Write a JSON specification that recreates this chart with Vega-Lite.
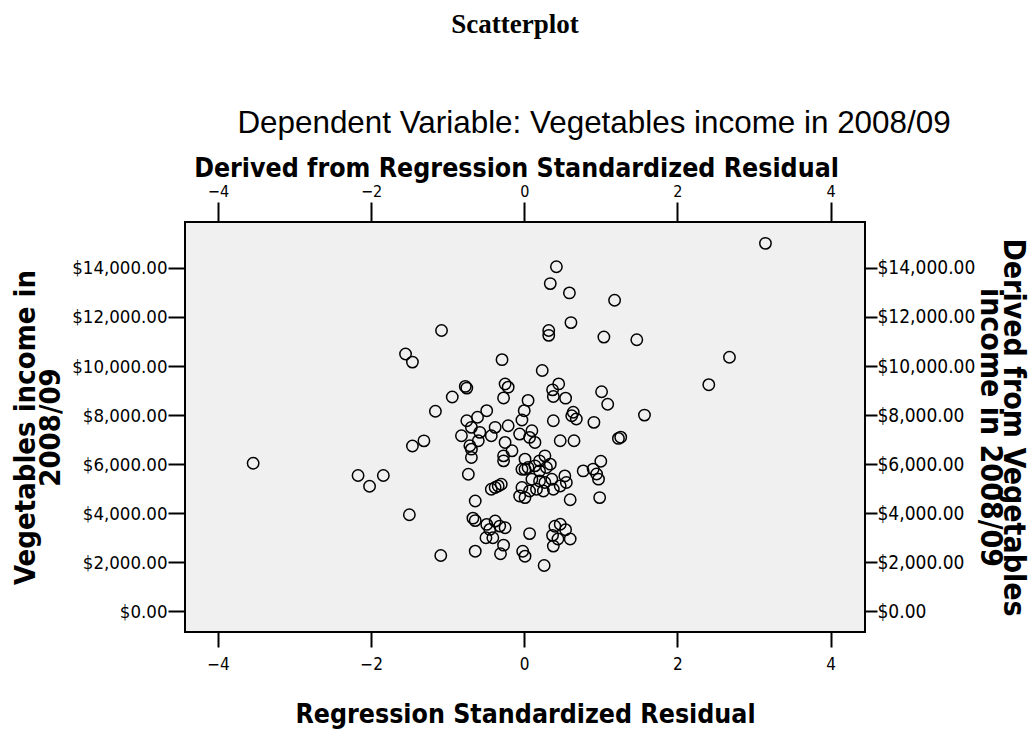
{
  "$schema": "https://vega.github.io/schema/vega-lite/v6.json",
  "autosize": {"type": "pad"},
  "padding": {"left": 10, "top": 10, "right": 8, "bottom": 0},
  "background": "white",
  "title": {
    "text": "Scatterplot",
    "anchor": "middle",
    "frame": "group",
    "font": "Liberation Serif",
    "fontSize": 27,
    "fontWeight": "bold",
    "color": "black",
    "dx": -10,
    "offset": 68
  },
  "config": {
    "view": {"fill": "#f0f0f0", "stroke": "black", "strokeWidth": 2},
    "axis": {
      "domain": false,
      "grid": false,
      "tickColor": "black",
      "tickWidth": 2,
      "labelColor": "black",
      "titleColor": "black",
      "labelFont": "DejaVu Sans Condensed",
      "titleFont": "DejaVu Sans Condensed",
      "titleFontWeight": "bold"
    }
  },
  "data": {
    "values": [
      {"residual": -3.54, "income": 6040}, {"residual": -2.17, "income": 5540}, {"residual": -2.02, "income": 5100},
      {"residual": -1.84, "income": 5540}, {"residual": -1.55, "income": 10490}, {"residual": -1.46, "income": 10160},
      {"residual": -1.08, "income": 11450}, {"residual": -1.5, "income": 3940}, {"residual": -1.09, "income": 2280},
      {"residual": -1.46, "income": 6740}, {"residual": -1.31, "income": 6950}, {"residual": -1.16, "income": 8155},
      {"residual": -0.94, "income": 8740}, {"residual": -0.77, "income": 9170}, {"residual": -0.75, "income": 9100},
      {"residual": -0.29, "income": 10260}, {"residual": 3.15, "income": 15000}, {"residual": 0.42, "income": 14045},
      {"residual": 0.34, "income": 13360}, {"residual": 0.59, "income": 12980}, {"residual": 1.18, "income": 12680},
      {"residual": 0.61, "income": 11770}, {"residual": 0.32, "income": 11450}, {"residual": 0.32, "income": 11250},
      {"residual": 1.04, "income": 11180}, {"residual": 1.47, "income": 11070}, {"residual": 2.68, "income": 10360},
      {"residual": 2.41, "income": 9240}, {"residual": 0.235, "income": 9816}, {"residual": 1.57, "income": 8000},
      {"residual": 1.01, "income": 8950}, {"residual": 1.09, "income": 8440}, {"residual": 1.23, "income": 7050},
      {"residual": 1.26, "income": 7100}, {"residual": 0.91, "income": 7705}, {"residual": 1.0, "income": 6120},
      {"residual": 0.77, "income": 5726}, {"residual": 0.9, "income": 5800}, {"residual": 0.945, "income": 5600},
      {"residual": 0.97, "income": 5390}, {"residual": 0.985, "income": 4638}, {"residual": 0.6, "income": 4550},
      {"residual": 0.47, "income": 6953}, {"residual": 0.65, "income": 6953}, {"residual": 0.38, "income": 7771},
      {"residual": 0.64, "income": 8115}, {"residual": 0.68, "income": 7840}, {"residual": 0.62, "income": 7975},
      {"residual": 0.54, "income": 8690}, {"residual": 0.45, "income": 9272}, {"residual": 0.37, "income": 9030},
      {"residual": 0.38, "income": 8760}, {"residual": 0.05, "income": 8600}, {"residual": 0.0, "income": 8180},
      {"residual": -0.03, "income": 7800}, {"residual": 0.07, "income": 3170}, {"residual": 0.26, "income": 1869},
      {"residual": 0.4, "income": 3470}, {"residual": 0.47, "income": 3550}, {"residual": 0.54, "income": 3330},
      {"residual": 0.37, "income": 3100}, {"residual": 0.44, "income": 2950}, {"residual": 0.6, "income": 2950},
      {"residual": 0.38, "income": 2660}, {"residual": -0.02, "income": 2450}, {"residual": 0.01, "income": 2250},
      {"residual": -0.27, "income": 2700}, {"residual": -0.31, "income": 2350}, {"residual": -0.64, "income": 2454},
      {"residual": -0.49, "income": 3546}, {"residual": -0.45, "income": 3342}, {"residual": -0.38, "income": 3681},
      {"residual": -0.32, "income": 3476}, {"residual": -0.25, "income": 3411}, {"residual": -0.5, "income": 3000},
      {"residual": -0.41, "income": 3000}, {"residual": -0.73, "income": 5590}, {"residual": -0.43, "income": 4977},
      {"residual": -0.38, "income": 5047}, {"residual": -0.34, "income": 5113}, {"residual": -0.3, "income": 5182},
      {"residual": -0.27, "income": 6136}, {"residual": -0.03, "income": 5795}, {"residual": 0.01, "income": 5795},
      {"residual": -0.06, "income": 4703}, {"residual": -0.03, "income": 5047}, {"residual": -0.64, "income": 4499},
      {"residual": -0.67, "income": 3800}, {"residual": -0.64, "income": 3700}, {"residual": -0.25, "income": 9270},
      {"residual": -0.21, "income": 9140}, {"residual": -0.27, "income": 8700}, {"residual": -0.49, "income": 8180},
      {"residual": -0.61, "income": 7910}, {"residual": -0.75, "income": 7771}, {"residual": -0.69, "income": 7500},
      {"residual": -0.58, "income": 7296}, {"residual": -0.38, "income": 7500}, {"residual": -0.43, "income": 7158},
      {"residual": -0.21, "income": 7566}, {"residual": -0.06, "income": 7227}, {"residual": -0.82, "income": 7158},
      {"residual": -0.71, "income": 6749}, {"residual": -0.69, "income": 6613}, {"residual": -0.6, "income": 6953},
      {"residual": -0.25, "income": 6886}, {"residual": -0.16, "income": 6544}, {"residual": -0.27, "income": 6340},
      {"residual": -0.69, "income": 6274}, {"residual": 0.01, "income": 6204}, {"residual": 0.1, "income": 7362},
      {"residual": 0.07, "income": 7091}, {"residual": 0.14, "income": 6886}, {"residual": 0.27, "income": 6340},
      {"residual": 0.2, "income": 6136}, {"residual": 0.05, "income": 5865}, {"residual": 0.14, "income": 5931},
      {"residual": 0.2, "income": 5726}, {"residual": 0.29, "income": 5865}, {"residual": 0.34, "income": 6000},
      {"residual": 0.1, "income": 5387}, {"residual": 0.2, "income": 5317}, {"residual": 0.27, "income": 5252},
      {"residual": 0.36, "income": 5387}, {"residual": 0.38, "income": 4977}, {"residual": 0.47, "income": 5113},
      {"residual": 0.53, "income": 5522}, {"residual": 0.55, "income": 5252}, {"residual": 0.07, "income": 4908},
      {"residual": 0.16, "income": 4977}, {"residual": 0.25, "income": 4908}, {"residual": 0.01, "income": 4638}
    ]
  },
  "vconcat": [
    {
      "width": 680,
      "height": 410,
      "title": {
        "text": "Dependent Variable: Vegetables income in 2008/09",
        "anchor": "middle",
        "frame": "group",
        "font": "Liberation Sans",
        "fontSize": 31.4,
        "fontWeight": "normal",
        "color": "black",
        "dx": 69,
        "offset": 16
      },
      "layer": [
        {
          "mark": {"type": "point", "shape": "circle", "filled": false, "stroke": "black", "strokeWidth": 1.5, "size": 130, "opacity": 1},
          "encoding": {
            "x": {
              "field": "residual", "type": "quantitative",
              "scale": {"domain": [-4.43, 4.45], "nice": false, "zero": false},
              "axis": {
                "orient": "bottom", "values": [-4, -2, 0, 2, 4], "format": "d",
                "tickSize": 15, "labelPadding": 9, "labelFontSize": 17,
                "title": "Regression Standardized Residual", "titleFontSize": 26.5, "titlePadding": 29
              }
            },
            "y": {
              "field": "income", "type": "quantitative",
              "scale": {"domain": [-840, 15870], "nice": false, "zero": false},
              "axis": {
                "orient": "left", "values": [0, 2000, 4000, 6000, 8000, 10000, 12000, 14000], "format": "$,.2f",
                "tickSize": 17, "labelPadding": 1, "labelFontSize": 18.5,
                "title": ["Vegetables income in", "2008/09"], "titleFontSize": 29, "titleLineHeight": 25, "titlePadding": 6
              }
            }
          }
        },
        {
          "mark": {"type": "point", "shape": "circle", "filled": false, "opacity": 0},
          "encoding": {
            "x": {
              "field": "residual", "type": "quantitative",
              "scale": {"domain": [-4.43, 4.45], "nice": false, "zero": false},
              "axis": {
                "orient": "top", "values": [-4, -2, 0, 2, 4], "format": "d",
                "tickSize": 20, "labelPadding": 3, "labelFontSize": 16,
                "title": "Derived from Regression Standardized Residual", "titleFontSize": 26.5, "titlePadding": 1,
                "titleX": 331
              }
            },
            "y": {
              "field": "income", "type": "quantitative",
              "scale": {"domain": [-840, 15870], "nice": false, "zero": false},
              "axis": {
                "orient": "right", "values": [0, 2000, 4000, 6000, 8000, 10000, 12000, 14000], "format": "$,.2f",
                "tickSize": 12, "labelPadding": 0, "labelFontSize": 19,
                "title": ["Derived from Vegetables", "income in 2008/09"], "titleFontSize": 30, "titleLineHeight": 23, "titlePadding": 0
              }
            }
          }
        }
      ],
      "resolve": {"scale": {"x": "independent", "y": "independent"}}
    }
  ]
}
